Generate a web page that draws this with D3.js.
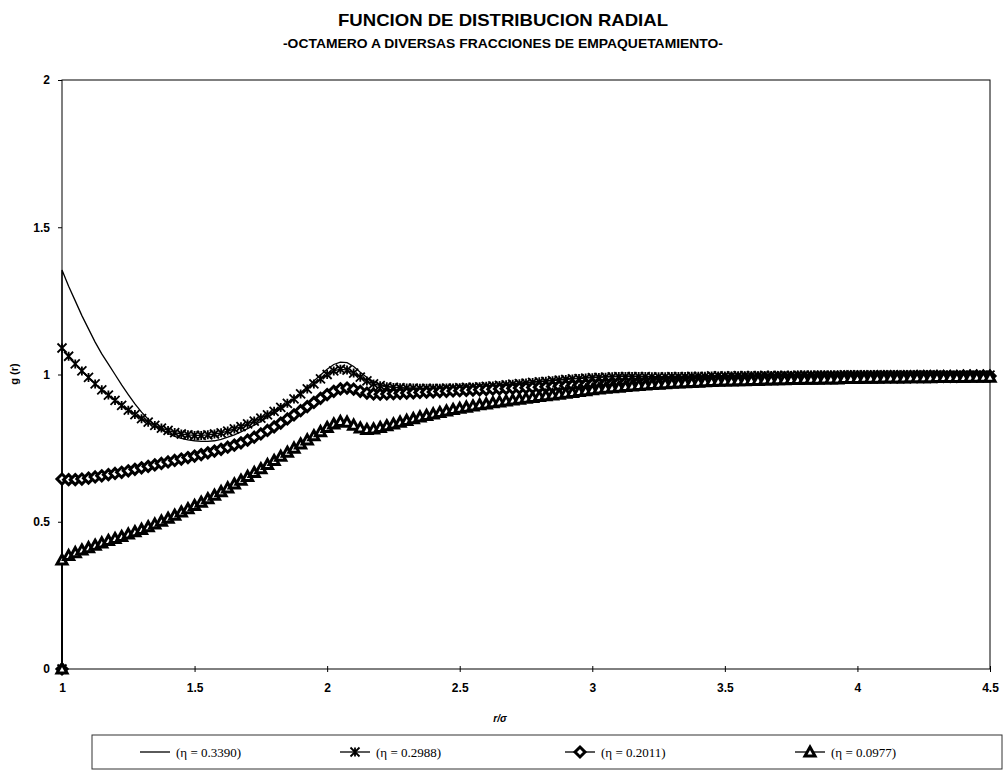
<!DOCTYPE html>
<html>
<head>
<meta charset="utf-8">
<script src="https://cdn.jsdelivr.net/npm/d3@7"></script>
<style>
  body { margin: 0; background: #fff; }
</style>
</head>
<body>
<div id="grafico"></div>
<script>
const WIDTH = 1008;
const HEIGHT = 772;

// r/sigma grid: the first point (r = 1, g = 0) then contact value and steps of 0.025
const rStep = 0.025;
const xTicks = [1, 1.5, 2, 2.5, 3, 3.5, 4, 4.5];
const yTicks = [0, 0.5, 1, 1.5, 2];

const etaLabels = ["(\u03b7 = 0.3390)", "(\u03b7 = 0.2988)", "(\u03b7 = 0.2011)", "(\u03b7 = 0.0977)"];

const g3390 = [0,
  1.355,1.300,1.250,1.200,1.155,1.110,1.070,1.035,1.000,0.965,
  0.932,0.900,0.872,0.848,0.828,0.812,0.800,0.790,0.783,0.778,
  0.775,0.773,0.773,0.775,0.780,0.787,0.795,0.805,0.816,0.828,
  0.841,0.855,0.869,0.884,0.900,0.918,0.938,0.958,0.978,0.998,
  1.018,1.034,1.042,1.040,1.027,1.008,0.990,0.976,0.966,0.960,
  0.957,0.955,0.954,0.954,0.953,0.953,0.953,0.954,0.954,0.955,
  0.956,0.957,0.958,0.960,0.961,0.963,0.965,0.967,0.969,0.971,
  0.973,0.975,0.977,0.979,0.981,0.983,0.985,0.987,0.988,0.990,
  0.991,0.992,0.993,0.994,0.995,0.995,0.995,0.994,0.994,0.993,
  0.993,0.993,0.994,0.994,0.994,0.995,0.995,0.995,0.996,0.996,
  0.996,0.996,0.997,0.997,0.997,0.997,0.997,0.998,0.998,0.998,
  0.998,0.998,0.998,0.999,0.999,0.999,0.999,0.999,0.999,0.999,
  1.000,1.000,1.000,1.000,1.000,1.000,1.000,1.000,1.000,1.000,
  1.000,1.000,0.999,0.999,0.999,0.999,0.999,0.999,0.999,0.999,
  0.999];

const g2988 = [0,
  1.090,1.062,1.036,1.012,0.990,0.968,0.948,0.930,0.912,0.895,
  0.879,0.864,0.850,0.838,0.827,0.818,0.810,0.803,0.798,0.795,
  0.793,0.793,0.795,0.798,0.802,0.808,0.815,0.823,0.832,0.842,
  0.852,0.863,0.875,0.888,0.902,0.917,0.934,0.951,0.968,0.985,
  1.000,1.012,1.018,1.015,1.005,0.991,0.978,0.968,0.962,0.958,
  0.956,0.955,0.954,0.954,0.953,0.953,0.953,0.953,0.954,0.954,
  0.955,0.956,0.957,0.958,0.960,0.961,0.963,0.965,0.967,0.969,
  0.971,0.973,0.975,0.977,0.979,0.981,0.983,0.985,0.986,0.988,
  0.989,0.990,0.991,0.992,0.993,0.993,0.993,0.993,0.993,0.992,
  0.992,0.992,0.993,0.993,0.993,0.994,0.994,0.994,0.995,0.995,
  0.995,0.995,0.996,0.996,0.996,0.996,0.997,0.997,0.997,0.997,
  0.997,0.998,0.998,0.998,0.998,0.998,0.998,0.998,0.999,0.999,
  0.999,0.999,0.999,0.999,0.999,0.999,0.999,0.999,0.999,0.999,
  0.999,0.999,0.999,0.998,0.998,0.998,0.998,0.998,0.998,0.998,
  0.998];

const g2011 = [0,
  0.645,0.643,0.643,0.645,0.648,0.652,0.656,0.660,0.664,0.668,
  0.673,0.678,0.683,0.688,0.693,0.698,0.703,0.708,0.713,0.718,
  0.723,0.728,0.734,0.740,0.746,0.753,0.760,0.768,0.777,0.787,
  0.798,0.810,0.822,0.835,0.849,0.863,0.877,0.891,0.905,0.919,
  0.932,0.943,0.951,0.954,0.950,0.943,0.937,0.934,0.933,0.934,
  0.935,0.936,0.937,0.938,0.939,0.940,0.941,0.942,0.943,0.944,
  0.945,0.946,0.947,0.948,0.949,0.950,0.951,0.952,0.953,0.954,
  0.955,0.956,0.957,0.958,0.959,0.960,0.962,0.963,0.964,0.965,
  0.967,0.968,0.969,0.970,0.972,0.973,0.974,0.975,0.976,0.977,
  0.978,0.979,0.980,0.980,0.981,0.982,0.983,0.983,0.984,0.985,
  0.985,0.986,0.986,0.987,0.987,0.988,0.988,0.988,0.989,0.989,
  0.989,0.990,0.990,0.990,0.991,0.991,0.991,0.991,0.992,0.992,
  0.992,0.992,0.992,0.993,0.993,0.993,0.993,0.993,0.993,0.994,
  0.994,0.994,0.994,0.994,0.994,0.994,0.995,0.995,0.995,0.995,
  0.995];

const g0977 = [0,
  0.370,0.385,0.395,0.404,0.412,0.420,0.428,0.436,0.443,0.450,
  0.458,0.466,0.474,0.483,0.492,0.502,0.512,0.522,0.533,0.544,
  0.555,0.566,0.578,0.590,0.602,0.615,0.628,0.641,0.654,0.667,
  0.680,0.694,0.708,0.722,0.736,0.750,0.764,0.778,0.792,0.806,
  0.820,0.832,0.840,0.838,0.828,0.818,0.813,0.815,0.820,0.826,
  0.832,0.838,0.844,0.850,0.856,0.861,0.866,0.871,0.876,0.881,
  0.885,0.889,0.893,0.897,0.900,0.904,0.907,0.910,0.913,0.916,
  0.919,0.922,0.925,0.928,0.930,0.933,0.936,0.939,0.942,0.945,
  0.948,0.951,0.953,0.955,0.957,0.959,0.961,0.963,0.964,0.966,
  0.967,0.969,0.970,0.971,0.972,0.973,0.974,0.975,0.976,0.977,
  0.978,0.978,0.979,0.979,0.980,0.980,0.981,0.981,0.982,0.982,
  0.983,0.983,0.984,0.984,0.984,0.985,0.985,0.985,0.986,0.986,
  0.986,0.987,0.987,0.987,0.988,0.988,0.988,0.988,0.989,0.989,
  0.989,0.989,0.990,0.990,0.990,0.990,0.990,0.991,0.991,0.991,
  0.991];

const seriesValues = [g3390, g2988, g2011, g0977];
const markerTypes = ["none", "star", "diamond", "triangle"];

// r value for index i (index 0 is the r = 1, g = 0 start point)
function rAt(i){
    return i === 0 ? 1 : 1 + rStep * (i - 1);
}

let svg = d3.select("#grafico")
    .append("svg")
    .attr("width", WIDTH)
    .attr("height", HEIGHT)
    .style("font-family", "Liberation Sans, Arial, sans-serif");

const plotLeft = 62, plotRight = 990, plotTop = 80, plotBottom = 669;

let x = d3.scaleLinear().domain([1, 4.5]).range([plotLeft, plotRight]);
let y = d3.scaleLinear().domain([0, 2]).range([plotBottom, plotTop]);

// titles
svg.append("text")
    .attr("x", 503)
    .attr("y", 26)
    .attr("text-anchor", "middle")
    .attr("textLength", 330)
    .attr("lengthAdjust", "spacingAndGlyphs")
    .style("font-weight", "bold")
    .style("font-size", "17px")
    .text("FUNCION DE DISTRIBUCION RADIAL");

svg.append("text")
    .attr("x", 503)
    .attr("y", 48)
    .attr("text-anchor", "middle")
    .attr("textLength", 440)
    .attr("lengthAdjust", "spacingAndGlyphs")
    .style("font-weight", "bold")
    .style("font-size", "12px")
    .text("-OCTAMERO A DIVERSAS FRACCIONES DE EMPAQUETAMIENTO-");

// plot frame
svg.append("rect")
    .attr("x", plotLeft)
    .attr("y", plotTop)
    .attr("width", plotRight - plotLeft)
    .attr("height", plotBottom - plotTop)
    .style("fill", "none")
    .style("stroke", "black")
    .style("stroke-width", 1);

// axes
let yAxis = svg.append("g")
    .attr("transform", "translate(" + plotLeft + ",0)")
    .call(d3.axisLeft(y).tickValues(yTicks).tickSize(4).tickPadding(8).tickFormat(d => d));

let xAxis = svg.append("g")
    .attr("transform", "translate(0," + plotBottom + ")")
    .call(d3.axisBottom(x).tickValues(xTicks).tickSize(3).tickPadding(11).tickFormat(d => d));
xAxis.selectAll(".tick line").attr("y1", -3);

[yAxis, xAxis].forEach(a => {
    a.select(".domain").remove();
    a.selectAll("text")
        .style("font-family", "Liberation Sans, Arial, sans-serif")
        .style("font-size", "12px")
        .style("font-weight", "bold")
        .style("fill", "black");
    a.selectAll(".tick line").style("stroke", "black");
});

svg.append("text")
    .attr("x", 500)
    .attr("y", 722)
    .attr("text-anchor", "middle")
    .style("font-size", "10px")
    .style("font-weight", "bold")
    .style("font-style", "italic")
    .text("r/\u03c3");

svg.append("text")
    .attr("transform", "translate(18,374) rotate(-90)")
    .attr("text-anchor", "middle")
    .style("font-size", "11px")
    .style("font-weight", "bold")
    .text("g (r)");

// marker shapes
function markerPath(type){
    if (type == "star"){
        let s = 4.5;
        return "M" + (-s) + "," + (-s) + "L" + s + "," + s +
               "M" + (-s) + "," + s + "L" + s + "," + (-s) +
               "M0," + (-s) + "L0," + s;
    } else if (type == "diamond"){
        let s = 5;
        return "M0," + (-s) + "L" + s + ",0L0," + s + "L" + (-s) + ",0Z";
    } else if (type == "triangle"){
        let s = 5;
        return "M0," + (-s) + "L" + s + "," + (s * 0.8) + "L" + (-s) + "," + (s * 0.8) + "Z";
    }
    return null;
}

function styleMarker(sel, type){
    if (type == "star"){
        sel.style("fill", "none").style("stroke", "black").style("stroke-width", 1.8);
    } else {
        sel.style("fill", "white").style("stroke", "black").style("stroke-width", 3);
    }
}

let line = d3.line()
    .x(d => x(d.r))
    .y(d => y(d.g));

let plot = svg.append("g");

seriesValues.forEach((vals, k) => {
    let pts = vals.map((g, i) => ({r: rAt(i), g: g}));
    plot.append("path")
        .datum(pts)
        .attr("d", line)
        .style("fill", "none")
        .style("stroke", "black")
        .style("stroke-width", 1.3);

    let type = markerTypes[k];
    if (type != "none"){
        let m = plot.append("g").selectAll("path")
            .data(pts)
            .enter()
            .append("path")
            .attr("transform", d => "translate(" + x(d.r) + "," + y(d.g) + ")")
            .attr("d", markerPath(type));
        styleMarker(m, type);
    }
});

// legend
let legend = svg.append("g");
legend.append("rect")
    .attr("x", 92)
    .attr("y", 735)
    .attr("width", 910)
    .attr("height", 34)
    .style("fill", "none")
    .style("stroke", "#333")
    .style("stroke-width", 1);

const legendX = [140, 340, 565, 795];
etaLabels.forEach((lab, k) => {
    let lx = legendX[k];
    let ly = 752;
    legend.append("line")
        .attr("x1", lx).attr("x2", lx + 30)
        .attr("y1", ly).attr("y2", ly)
        .style("stroke", "black")
        .style("stroke-width", 1.3);
    let type = markerTypes[k];
    if (type != "none"){
        let m = legend.append("path")
            .attr("transform", "translate(" + (lx + 15) + "," + ly + ")")
            .attr("d", markerPath(type));
        styleMarker(m, type);
    }
    legend.append("text")
        .attr("x", lx + 36)
        .attr("y", ly + 4.5)
        .style("font-family", "Liberation Serif, Times New Roman, serif")
        .style("font-size", "13px")
        .text(lab);
});
</script>
</body>
</html>
